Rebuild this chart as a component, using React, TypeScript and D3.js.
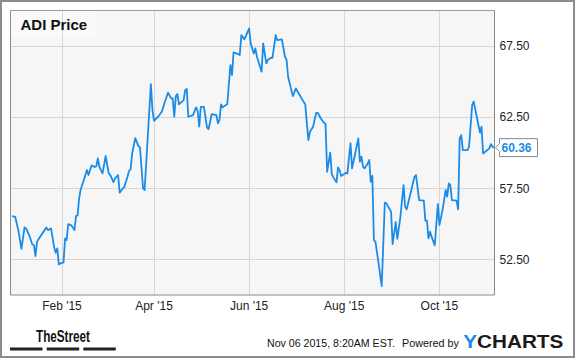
import React from "react";
import * as d3 from "d3";

const dates: string[] = [
  "2014-12-31","2015-01-02","2015-01-04","2015-01-06","2015-01-08","2015-01-09","2015-01-11","2015-01-13","2015-01-14","2015-01-15",
  "2015-01-16","2015-01-18","2015-01-20","2015-01-22","2015-01-23","2015-01-25","2015-01-27","2015-01-28","2015-01-29","2015-01-30",
  "2015-01-31","2015-02-02","2015-02-03","2015-02-04","2015-02-05","2015-02-07","2015-02-09","2015-02-10","2015-02-11","2015-02-12",
  "2015-02-13","2015-02-15","2015-02-17","2015-02-18","2015-02-19","2015-02-20","2015-02-22","2015-02-23","2015-02-24","2015-02-25",
  "2015-02-27","2015-03-01","2015-03-03","2015-03-04","2015-03-06","2015-03-07","2015-03-09","2015-03-10","2015-03-12","2015-03-13",
  "2015-03-15","2015-03-16","2015-03-17","2015-03-18","2015-03-20","2015-03-22","2015-03-23","2015-03-25","2015-03-26","2015-03-30",
  "2015-03-31","2015-04-01","2015-04-04","2015-04-06","2015-04-08","2015-04-10","2015-04-12","2015-04-13","2015-04-14","2015-04-15",
  "2015-04-16","2015-04-17","2015-04-19","2015-04-20","2015-04-21","2015-04-22","2015-04-23","2015-04-26","2015-04-28","2015-04-29",
  "2015-04-30","2015-05-01","2015-05-03","2015-05-05","2015-05-06","2015-05-07","2015-05-08","2015-05-11","2015-05-12","2015-05-13",
  "2015-05-14","2015-05-15","2015-05-18","2015-05-20","2015-05-21","2015-05-22","2015-05-25","2015-05-26","2015-05-27","2015-05-29",
  "2015-06-01","2015-06-02","2015-06-04","2015-06-05","2015-06-06","2015-06-09","2015-06-10","2015-06-12","2015-06-13","2015-06-15",
  "2015-06-16","2015-06-18","2015-06-19","2015-06-22","2015-06-24","2015-06-25","2015-06-26","2015-06-29","2015-07-01","2015-07-03",
  "2015-07-05","2015-07-07","2015-07-08","2015-07-09","2015-07-10","2015-07-12","2015-07-14","2015-07-15","2015-07-17","2015-07-19",
  "2015-07-20","2015-07-21","2015-07-23","2015-07-24","2015-07-25","2015-07-27","2015-07-28","2015-07-29","2015-07-30","2015-08-01",
  "2015-08-02","2015-08-03","2015-08-05","2015-08-06","2015-08-08","2015-08-10","2015-08-11","2015-08-12","2015-08-13","2015-08-14",
  "2015-08-16","2015-08-17","2015-08-18","2015-08-19","2015-08-20","2015-08-21","2015-08-23","2015-08-25","2015-08-27","2015-08-28",
  "2015-08-31","2015-09-01","2015-09-03","2015-09-04","2015-09-06","2015-09-08","2015-09-09","2015-09-10","2015-09-13","2015-09-15",
  "2015-09-16","2015-09-18","2015-09-21","2015-09-22","2015-09-23","2015-09-24","2015-09-25","2015-09-26","2015-09-28","2015-09-30",
  "2015-10-01","2015-10-03","2015-10-05","2015-10-06","2015-10-07","2015-10-08","2015-10-09","2015-10-12","2015-10-13","2015-10-14",
  "2015-10-15","2015-10-16","2015-10-19","2015-10-20","2015-10-22","2015-10-23","2015-10-26","2015-10-27","2015-10-28","2015-10-29",
  "2015-10-31","2015-11-02","2015-11-03","2015-11-04","2015-11-05"
];

const prices: number[] = [
  55.55,55.5,54.56,53.25,54.75,54.68,54.2,53.55,53.5,52.73,
  53.74,54.1,54.42,54.75,54.56,54.68,53.35,52.97,53.28,52.15,
  52.22,52.29,53.98,53.86,54.98,54.9,54.56,55.55,55.6,56.79,
  57.42,58.08,58.78,58.43,58.78,59.11,59.0,59.06,59.6,59.0,
  58.55,59.77,58.55,58.43,57.94,58.2,58.43,57.19,57.49,57.6,
  58.31,58.73,58.83,59.95,61.03,60.47,60.38,57.49,57.38,64.83,
  63.0,62.25,62.58,62.88,63.59,64.22,63.82,63.82,62.53,63.98,
  64.13,63.4,63.59,63.7,64.41,64.48,62.53,62.65,63.19,62.95,
  61.83,63.23,63.23,61.78,61.66,62.18,62.72,62.65,62.06,62.3,
  63.4,63.19,63.42,66.16,65.46,67.05,66.94,66.87,68.27,67.97,
  68.74,67.69,66.98,67.34,66.75,65.7,67.69,66.28,66.52,66.68,
  66.68,68.27,67.92,67.97,66.75,66.52,65.34,63.98,64.52,64.13,
  63.75,63.4,62.06,60.89,61.48,61.83,62.81,62.81,62.41,62.11,
  62.02,58.66,60.0,58.5,58.27,57.92,58.97,58.78,58.36,58.5,
  58.59,58.55,60.66,58.9,59.95,61.01,59.37,59.72,59.02,58.9,
  59.25,59.49,57.96,58.38,53.86,53.74,52.22,50.62,56.49,56.44,
  55.85,53.58,55.13,53.95,55.5,57.73,56.21,56.02,57.38,58.31,
  58.43,56.67,56.63,55.22,55.22,53.98,54.45,54.1,53.49,56.39,
  54.92,55.97,57.38,56.91,57.85,57.73,56.67,56.63,56.02,61.01,
  61.24,60.19,60.19,60.42,63.35,63.59,61.95,61.41,61.83,59.95,
  60.12,60.31,60.61,60.42,60.36
];

const xDomain: string[] = ["2014-12-30", "2015-11-05"];
const yDomain: number[] = [50, 70];
const xTickDates: string[] = ["2015-02-01", "2015-04-01", "2015-06-01", "2015-08-01", "2015-10-01"];
const xTickLabels: string[] = ["Feb '15", "Apr '15", "Jun '15", "Aug '15", "Oct '15"];
const yTicks: number[] = [52.5, 57.5, 62.5, 67.5];
const title = "ADI Price";
const lastLabel = "60.36";
const stampText = "Nov 06 2015, 8:20AM EST.";
const poweredText = "Powered by";

const W = 575;
const H = 358;
const left = 10.5;
const right = 494.5;
const top = 10.5;
const bottom = 295;
const BLUE = "#1a8ce8";
const FONT = "Arial, 'Liberation Sans', Helvetica, sans-serif";

export default function App() {
  const parse = d3.utcParse("%Y-%m-%d");
  const x = d3.scaleUtc().domain(xDomain.map((d) => parse(d) as Date)).range([left, right - 0.5]);
  const y = d3.scaleLinear().domain(yDomain).range([bottom, top]);
  const data = dates.map((d, i) => ({ date: parse(d) as Date, v: prices[i] }));
  const line = d3
    .line<{ date: Date; v: number }>()
    .x((d) => x(d.date))
    .y((d) => y(d.v));
  const last = data[data.length - 1];
  const ly = y(last.v);

  return (
    <svg
      width={W}
      height={H}
      style={{ position: "absolute", left: 0, top: 0, display: "block", background: "#fff" }}
    >
      <rect x={0} y={0} width={W} height={H} fill="#fff" />
      <rect x={1} y={1} width={W - 2} height={H - 2} fill="none" stroke="#8c8c8c" strokeWidth={2} />
      {/* plot area */}
      <rect x={left} y={top} width={right - left} height={bottom - top} fill="#f6f6f6" />
      {/* title box */}
      <rect x={left + 0.5} y={top + 0.5} width={85} height={25.5} fill="#fafafa" />
      {/* grid */}
      {yTicks.map((t) => (
        <line key={"gy" + t} x1={left} x2={right} y1={Math.round(y(t)) + 0.5} y2={Math.round(y(t)) + 0.5} stroke="#d6d6d6" strokeWidth={1} />
      ))}
      {xTickDates.map((t) => {
        const xx = Math.round(x(parse(t) as Date)) + 0.5;
        return <line key={"gx" + t} x1={xx} x2={xx} y1={top} y2={bottom} stroke="#d6d6d6" strokeWidth={1} />;
      })}
      {/* frame */}
      <line x1={left} x2={right} y1={top} y2={top} stroke="#9a9a9a" />
      <line x1={left} x2={left} y1={top} y2={bottom} stroke="#8a8a8a" />
      <line x1={left} x2={right} y1={bottom} y2={bottom} stroke="#8a8a8a" />
      <line x1={right} x2={right} y1={top} y2={bottom} stroke="#8a8a8a" />
      {/* title */}
      <text x={20.5} y={29.5} fontFamily={FONT} fontWeight="bold" fontSize={15} fill="#111">
        {title}
      </text>
      {/* price line */}
      <path d={line(data) || ""} fill="none" stroke={BLUE} strokeWidth={1.8} strokeLinejoin="round" />
      {/* y labels */}
      {yTicks.map((t) => (
        <text key={"ly" + t} x={499.5} y={y(t)} dy="0.35em" fontFamily={FONT} fontSize={12} fill="#222">
          {t.toFixed(2)}
        </text>
      ))}
      {/* x labels */}
      {xTickDates.map((t, i) => (
        <text key={"lx" + t} x={x(parse(t) as Date)} y={310} textAnchor="middle" fontFamily={FONT} fontSize={12} fill="#222">
          {xTickLabels[i]}
        </text>
      ))}
      {/* last value label */}
      <path
        d={`M499.5,${ly - 9} H537.5 V${ly + 9} H499.5 V${ly + 4} L495.5,${ly} L499.5,${ly - 4} Z`}
        fill="#fff"
        stroke="#8a8a8a"
        strokeWidth={1}
      />
      <text x={501.5} y={ly} dy="0.36em" fontFamily={FONT} fontWeight="bold" fontSize={12} fill={BLUE}>
        {lastLabel}
      </text>
      {/* footer */}
      <text
        x={36}
        y={341.7}
        fontFamily="'Liberation Sans Narrow', 'Arial Narrow', Arial, sans-serif"
        fontWeight="bold"
        fontSize={17}
        fill="#111"
        textLength={54}
        lengthAdjust="spacingAndGlyphs"
      >
        TheStreet
      </text>
      <rect x={10} y={347.5} width={32.5} height={3} fill="#222" />
      <rect x={46.7} y={347.5} width={32.5} height={3} fill="#222" />
      <rect x={83.3} y={347.5} width={32.5} height={3} fill="#222" />
      <text x={267} y={346.5} fontFamily={FONT} fontSize={10.6} fill="#111" textLength={128} lengthAdjust="spacingAndGlyphs">
        {stampText}
      </text>
      <text x={402} y={346.5} fontFamily={FONT} fontSize={10.8} fill="#111" textLength={57} lengthAdjust="spacingAndGlyphs">
        {poweredText}
      </text>
      <text
        x={463.3}
        y={348.3}
        fontFamily={FONT}
        fontWeight="bold"
        fontSize={18.5}
        textLength={100}
        lengthAdjust="spacingAndGlyphs"
      >
        <tspan fill={BLUE}>Y</tspan>
        <tspan fill="#1a1a1a">CHARTS</tspan>
      </text>
    </svg>
  );
}
